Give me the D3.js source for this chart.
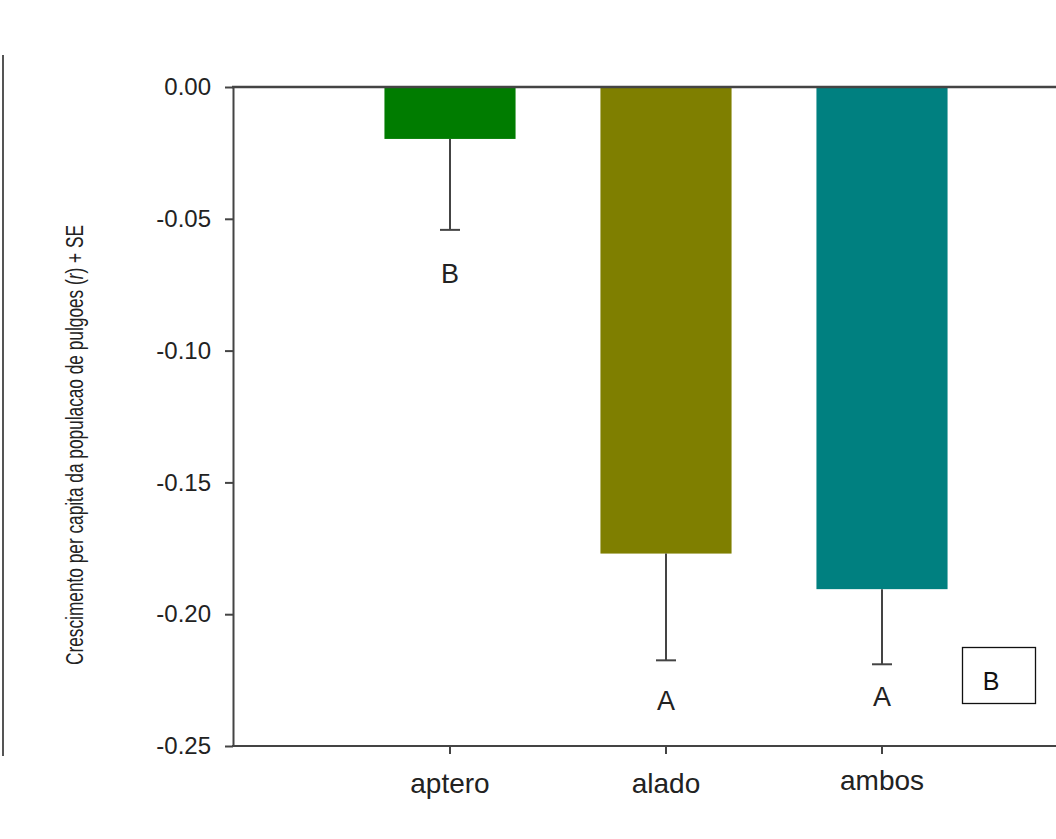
<!DOCTYPE html>
<html>
<head>
<meta charset="utf-8">
<script src="https://cdn.jsdelivr.net/npm/d3@7"></script>
<style>
  html, body { margin: 0; padding: 0; background: #fff; }
  svg { display: block; }
</style>
</head>
<body>
<script>
// data
const categories = ["aptero", "alado", "ambos"];
const means = [-0.0197, -0.177, -0.1905];
const errors = [0.0345, 0.0405, 0.0285];
const letters = ["B", "A", "A"];
const letterLevels = [-0.0745, -0.2365, -0.235]; // baseline level of each letter
const barColors = ["#007c00", "#7f7f00", "#008080"];
const yTicks = [0, -0.05, -0.1, -0.15, -0.2, -0.25];

const width = 1056, height = 839;
const axisColor = "#444";
const font = "Liberation Sans, Arial, sans-serif";

const svg = d3.select("body").append("svg")
  .attr("width", width)
  .attr("height", height);

// scales
const y = d3.scaleLinear().domain([-0.25, 0]).range([746, 87]);
const x = d3.scaleBand().domain(categories).range([342, 990]).paddingInner(0.393).paddingOuter(0.1965);

// left border line of the cropped panel
svg.append("line")
  .attr("x1", 3).attr("x2", 3)
  .attr("y1", 55).attr("y2", 756)
  .attr("stroke", "#555").attr("stroke-width", 2);

// bars
svg.selectAll(".bar")
  .data(categories)
  .enter()
  .append("rect")
  .attr("class", "bar")
  .attr("x", (d) => x(d))
  .attr("width", x.bandwidth())
  .attr("y", y(0))
  .attr("height", (d, i) => y(means[i]) - y(0))
  .attr("fill", (d, i) => barColors[i]);

// error bars (downwards only)
const err = svg.selectAll(".err")
  .data(categories)
  .enter()
  .append("g")
  .attr("class", "err")
  .attr("stroke", axisColor)
  .attr("stroke-width", 2);

err.append("line")
  .attr("x1", (d) => x(d) + x.bandwidth() / 2)
  .attr("x2", (d) => x(d) + x.bandwidth() / 2)
  .attr("y1", (d, i) => y(means[i]))
  .attr("y2", (d, i) => y(means[i] - errors[i]));

err.append("line")
  .attr("x1", (d) => x(d) + x.bandwidth() / 2 - 10)
  .attr("x2", (d) => x(d) + x.bandwidth() / 2 + 10)
  .attr("y1", (d, i) => y(means[i] - errors[i]))
  .attr("y2", (d, i) => y(means[i] - errors[i]));

// significance letters
svg.selectAll(".letter")
  .data(categories)
  .enter()
  .append("text")
  .attr("class", "letter")
  .attr("x", (d) => x(d) + x.bandwidth() / 2)
  .attr("y", (d, i) => y(letterLevels[i]))
  .attr("text-anchor", "middle")
  .attr("font-family", font)
  .attr("font-size", 27)
  .attr("fill", "#222")
  .text((d, i) => letters[i]);

// y axis
const yAxis = svg.append("g")
  .attr("transform", "translate(233,0)")
  .call(d3.axisLeft(y).tickValues(yTicks).tickFormat(d3.format(".2f")).tickSize(8).tickSizeOuter(0));
yAxis.select(".domain").attr("stroke", axisColor).attr("stroke-width", 2);
yAxis.selectAll(".tick line").attr("stroke", axisColor).attr("stroke-width", 2);
yAxis.selectAll(".tick text")
  .attr("x", -22)
  .attr("font-family", font)
  .attr("font-size", 24)
  .attr("fill", "#222")
  .text((d) => d3.format(".2f")(d).replace("−", "-"));

// x axis (bottom)
const xAxis = svg.append("g")
  .attr("transform", "translate(0,746)")
  .call(d3.axisBottom(x).tickSize(8).tickSizeOuter(0));
xAxis.select(".domain").attr("d", `M232,0H${width}`).attr("stroke", axisColor).attr("stroke-width", 2);
xAxis.selectAll(".tick line").attr("stroke", axisColor).attr("stroke-width", 2);
xAxis.selectAll(".tick text")
  .attr("y", 47)
  .attr("dy", 0)
  .attr("font-family", font)
  .attr("font-size", 28)
  .attr("fill", "#222");
xAxis.selectAll(".tick").filter((d) => d === "ambos").select("text").attr("y", 44);

// top frame line
svg.append("line")
  .attr("x1", 232).attr("x2", width)
  .attr("y1", y(0)).attr("y2", y(0))
  .attr("stroke", axisColor).attr("stroke-width", 2.5);

// y title
const title = svg.append("text")
  .attr("transform", `translate(83,445) rotate(-90)`)
  .attr("text-anchor", "middle")
  .attr("font-family", font)
  .attr("font-size", 23)
  .attr("fill", "#222")
  .attr("textLength", 440)
  .attr("lengthAdjust", "spacingAndGlyphs");
title.append("tspan").text("Crescimento per capita da populacao de pulgoes (");
title.append("tspan").attr("font-style", "italic").text("r");
title.append("tspan").text(") + SE");

// panel label box
svg.append("rect")
  .attr("x", 962.5).attr("y", 647.5)
  .attr("width", 73).attr("height", 56)
  .attr("fill", "none").attr("stroke", "#111").attr("stroke-width", 1.3);
svg.append("text")
  .attr("x", 991).attr("y", 690)
  .attr("text-anchor", "middle")
  .attr("font-family", font)
  .attr("font-size", 25)
  .attr("fill", "#111")
  .text("B");
</script>
</body>
</html>
